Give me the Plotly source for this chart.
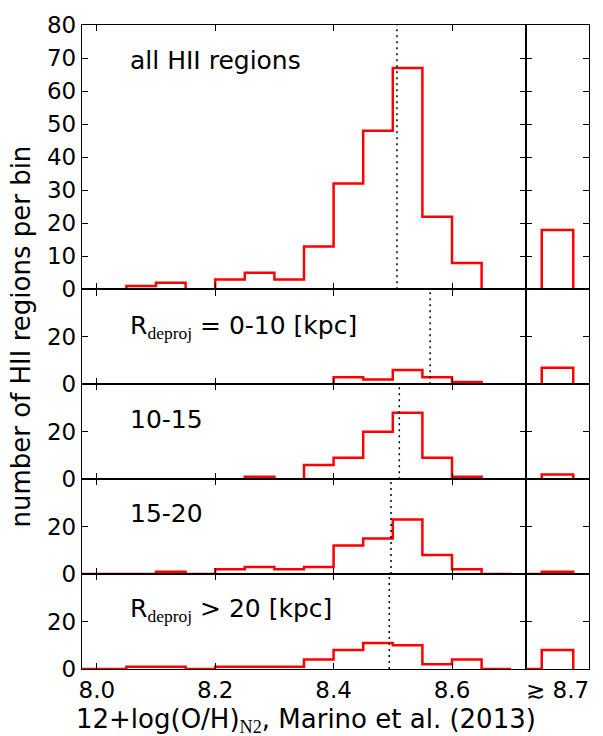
import plotly.graph_objects as go
from plotly.subplots import make_subplots

# ---- data ----
bin_edges = [7.90, 7.95, 8.00, 8.05, 8.10, 8.15, 8.20, 8.25, 8.30, 8.35,
             8.40, 8.45, 8.50, 8.55, 8.60, 8.65, 8.70]
counts_all = [0, 0, 0, 1, 2, 0, 3, 5, 3, 13, 32, 48, 67, 22, 8, 0]
counts_0_10 = [0, 0, 0, 0, 0, 0, 0, 0, 0, 0, 3, 2, 6, 3, 1, 0]
counts_10_15 = [0, 0, 0, 0, 0, 0, 0, 1, 0, 6, 9, 20, 28, 9, 1, 0]
counts_15_20 = [0, 0, 0, 0, 1, 0, 2, 3, 2, 3, 12, 15, 23, 8, 2, 0]
counts_gt20 = [0, 0, 0, 1, 1, 0, 1, 1, 1, 4, 8, 11, 10, 2, 4, 0]

high_edges = [8.65, 8.70, 8.75]
high_counts = [18, 7, 2, 1, 8]          # regions with 12+log(O/H) >~ 8.7
medians = [8.507, 8.563, 8.511, 8.497, 8.494]

panel_labels = [
    "all HII regions",
    "R<sub><span style='font-family:Liberation Serif'>deproj</span></sub> = 0-10 [kpc]",
    "10-15",
    "15-20",
    "R<sub><span style='font-family:Liberation Serif'>deproj</span></sub> &gt; 20 [kpc]",
]
series = [counts_all, counts_0_10, counts_10_15, counts_15_20, counts_gt20]
y_max = [80, 40, 40, 40, 40]
y_ticks_top = [0, 10, 20, 30, 40, 50, 60, 70, 80]
y_ticks_low = [0, 20]
x_ticks = [8.0, 8.2, 8.4, 8.6]
x_ticktext = ["8.0", "8.2", "8.4", "8.6"]
high_tick = 8.725
high_ticktext = "≳ 8.7"

# ---- layout geometry ----
W, H = 603, 736
ml, mr, mt, mb = 82, 14, 21, 67
pw = W - ml - mr
ph = H - mt - mb

FONT = "DejaVu Sans"
fig = make_subplots(rows=5, cols=2, shared_xaxes=True,
                    column_widths=[444, 63],
                    row_heights=[266, 95.5, 95.5, 95.5, 95.5],
                    horizontal_spacing=0, vertical_spacing=0)

RED = "#ff0000"
for i, cnt in enumerate(series):
    r = i + 1
    xs = [bin_edges[0]] + bin_edges
    ys = [0] + cnt + [0]
    fig.add_trace(go.Scatter(x=xs, y=ys, mode="lines", line_shape="hv",
                             line=dict(color=RED, width=2.5),
                             showlegend=False, hoverinfo="skip"), row=r, col=1)
    fig.add_trace(go.Scatter(x=[medians[i], medians[i]], y=[0, y_max[i]],
                             mode="lines",
                             line=dict(color="black", width=1.5, dash="2px,4px"),
                             showlegend=False, hoverinfo="skip"), row=r, col=1)
    hx = [high_edges[0]] + high_edges
    hy = [0, 0, high_counts[i], 0]
    fig.add_trace(go.Scatter(x=hx, y=hy, mode="lines", line_shape="hv",
                             line=dict(color=RED, width=2.5),
                             showlegend=False, hoverinfo="skip"), row=r, col=2)

axis_common = dict(showline=True, linecolor="black", linewidth=1.4,
                   mirror="ticks", ticks="inside", ticklen=6, tickwidth=1,
                   tickcolor="black", showgrid=False, zeroline=False,
                   tickfont=dict(family=FONT, size=23, color="black"))

for i in range(5):
    r = i + 1
    yt = y_ticks_top if i == 0 else y_ticks_low
    fig.update_yaxes(range=[0, y_max[i]], tickvals=yt,
                     ticktext=[str(v) for v in yt], row=r, col=1, **axis_common)
    fig.update_yaxes(range=[0, y_max[i]], tickvals=yt, showticklabels=False,
                     row=r, col=2, **axis_common)
    fig.update_xaxes(range=[7.975, 8.725], tickvals=x_ticks, ticktext=x_ticktext,
                     row=r, col=1, **axis_common)
    fig.update_xaxes(range=[8.675, 8.775], tickvals=[high_tick],
                     ticktext=[high_ticktext], row=r, col=2,
                     **{**axis_common, "ticks": ""})
    fig.update_xaxes(showticklabels=(r == 5), row=r, col=1)
    fig.update_xaxes(showticklabels=(r == 5), row=r, col=2)


def px_to_paper(xp, yp):
    return (xp - ml) / pw, (H - mb - yp) / ph


label_y = [57, 325, 418, 513, 610]
annotations = []
for i, txt in enumerate(panel_labels):
    ax, ay = px_to_paper(128, label_y[i])
    annotations.append(dict(text=txt, x=ax, y=ay, xref="paper", yref="paper",
                            xanchor="left", yanchor="middle", showarrow=False,
                            font=dict(family=FONT, size=25, color="black")))

tx, ty = px_to_paper(306, 721)
annotations.append(dict(
    text="12+log(O/H)<sub><span style='font-family:Liberation Serif'>N2</span></sub>, Marino et al. (2013)",
    x=tx, y=ty, xref="paper", yref="paper", xanchor="center", yanchor="middle",
    showarrow=False, font=dict(family=FONT, size=26, color="black")))

yx, yy = px_to_paper(21, 334.5)
annotations.append(dict(text="number of HII regions per bin", x=yx, y=yy,
                        xref="paper", yref="paper", xanchor="center",
                        yanchor="middle", textangle=-90, showarrow=False,
                        font=dict(family=FONT, size=26, color="black")))

fig.update_layout(width=W, height=H, margin=dict(l=ml, r=mr, t=mt, b=mb),
                  plot_bgcolor="white", paper_bgcolor="white",
                  annotations=annotations, showlegend=False)

fig.write_html("out.html")
